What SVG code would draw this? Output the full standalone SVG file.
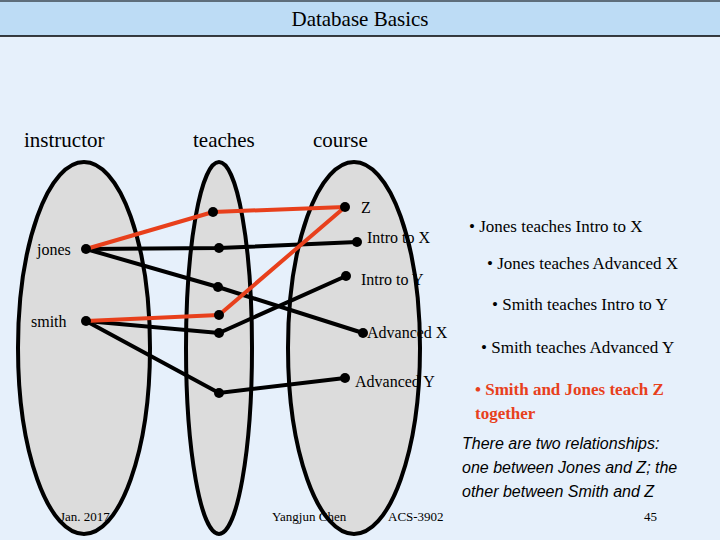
<svg xmlns="http://www.w3.org/2000/svg" width="720" height="540" viewBox="0 0 720 540">
<style>
text{font-family:'Liberation Serif','Times New Roman','DejaVu Serif',serif;fill:#000}
.s{font-family:'Liberation Sans',Arial,sans-serif;font-style:italic}
.red{fill:#e8401c;font-weight:bold}
.e{fill:#dcdcdc;stroke:#000;stroke-width:4}
.b{stroke:#000;stroke-width:4;fill:none}
.r{stroke:#e8401c;stroke-width:4;fill:none;stroke-linejoin:round}
.d{fill:#000}
</style>
<rect width="720" height="540" fill="#e6f0fb"/>
<rect x="0" y="0" width="720" height="36" fill="#bddcf5"/>
<line x1="0" y1="1" x2="720" y2="1" stroke="#000"/>
<line x1="0" y1="36" x2="720" y2="36" stroke="#000" stroke-width="1.5"/>
<text x="360" y="26" font-size="21" text-anchor="middle">Database Basics</text>
<g id="labels" font-size="21">
<text x="24" y="147">instructor</text>
<text x="193" y="147">teaches</text>
<text x="313" y="147">course</text>
</g>
<g id="sets">
<ellipse class="e" cx="84" cy="348" rx="66" ry="186"/>
<ellipse class="e" cx="219" cy="348" rx="33" ry="186"/>
<ellipse class="e" cx="354" cy="348" rx="66" ry="186"/>
</g>
<g id="connectors">
<polyline class="b" points="86,249 219,248 357,242"/>
<polyline class="b" points="86,249 218,287 363,333"/>
<polyline class="b" points="86,321 219,333 346,276"/>
<polyline class="b" points="86,321 219,393 345,378"/>
<polyline class="r" points="86,249 213,212 345,207 219,315 86,321"/>
</g>
<g id="nodes" font-size="16">
<g id="jones"><circle class="d" cx="86" cy="249" r="5"/><text x="37" y="255">jones</text></g>
<g id="smith"><circle class="d" cx="86" cy="321" r="5"/><text x="31" y="327">smith</text></g>
<g id="t1"><circle class="d" cx="213" cy="212" r="5"/></g>
<g id="t2"><circle class="d" cx="219" cy="248" r="5"/></g>
<g id="t3"><circle class="d" cx="218" cy="287" r="5"/></g>
<g id="t4"><circle class="d" cx="219" cy="315" r="5"/></g>
<g id="t5"><circle class="d" cx="219" cy="333" r="5"/></g>
<g id="t6"><circle class="d" cx="219" cy="393" r="5"/></g>
<g id="z"><circle class="d" cx="345" cy="207" r="5"/><text x="361" y="213">Z</text></g>
<g id="ix"><circle class="d" cx="357" cy="242" r="5"/><text x="367" y="243">Intro to X</text></g>
<g id="iy"><circle class="d" cx="346" cy="276" r="5"/><text x="361" y="285">Intro to Y</text></g>
<g id="ax"><circle class="d" cx="363" cy="333" r="5"/><text x="367" y="338">Advanced X</text></g>
<g id="ay"><circle class="d" cx="345" cy="378" r="5"/><text x="355" y="387">Advanced Y</text></g>
</g>
<g id="notes" font-size="17">
<text x="469" y="232">• Jones teaches Intro to X</text>
<text x="487" y="269">• Jones teaches Advanced X</text>
<text x="492" y="310">• Smith teaches Intro to Y</text>
<text x="481" y="353">• Smith teaches Advanced Y</text>
<text class="red" x="475" y="395">• Smith and Jones teach Z</text>
<text class="red" x="475" y="419">together</text>
<text class="s" x="462" y="449" font-size="16">There are two relationships:</text>
<text class="s" x="462" y="473" font-size="16">one between Jones and Z; the</text>
<text class="s" x="462" y="497" font-size="16">other between Smith and Z</text>
</g>
<g id="footer" font-size="13">
<text x="60" y="521">Jan. 2017</text>
<text x="272" y="521">Yangjun Chen</text>
<text x="388" y="521">ACS-3902</text>
<text x="644" y="521">45</text>
</g>
</svg>
